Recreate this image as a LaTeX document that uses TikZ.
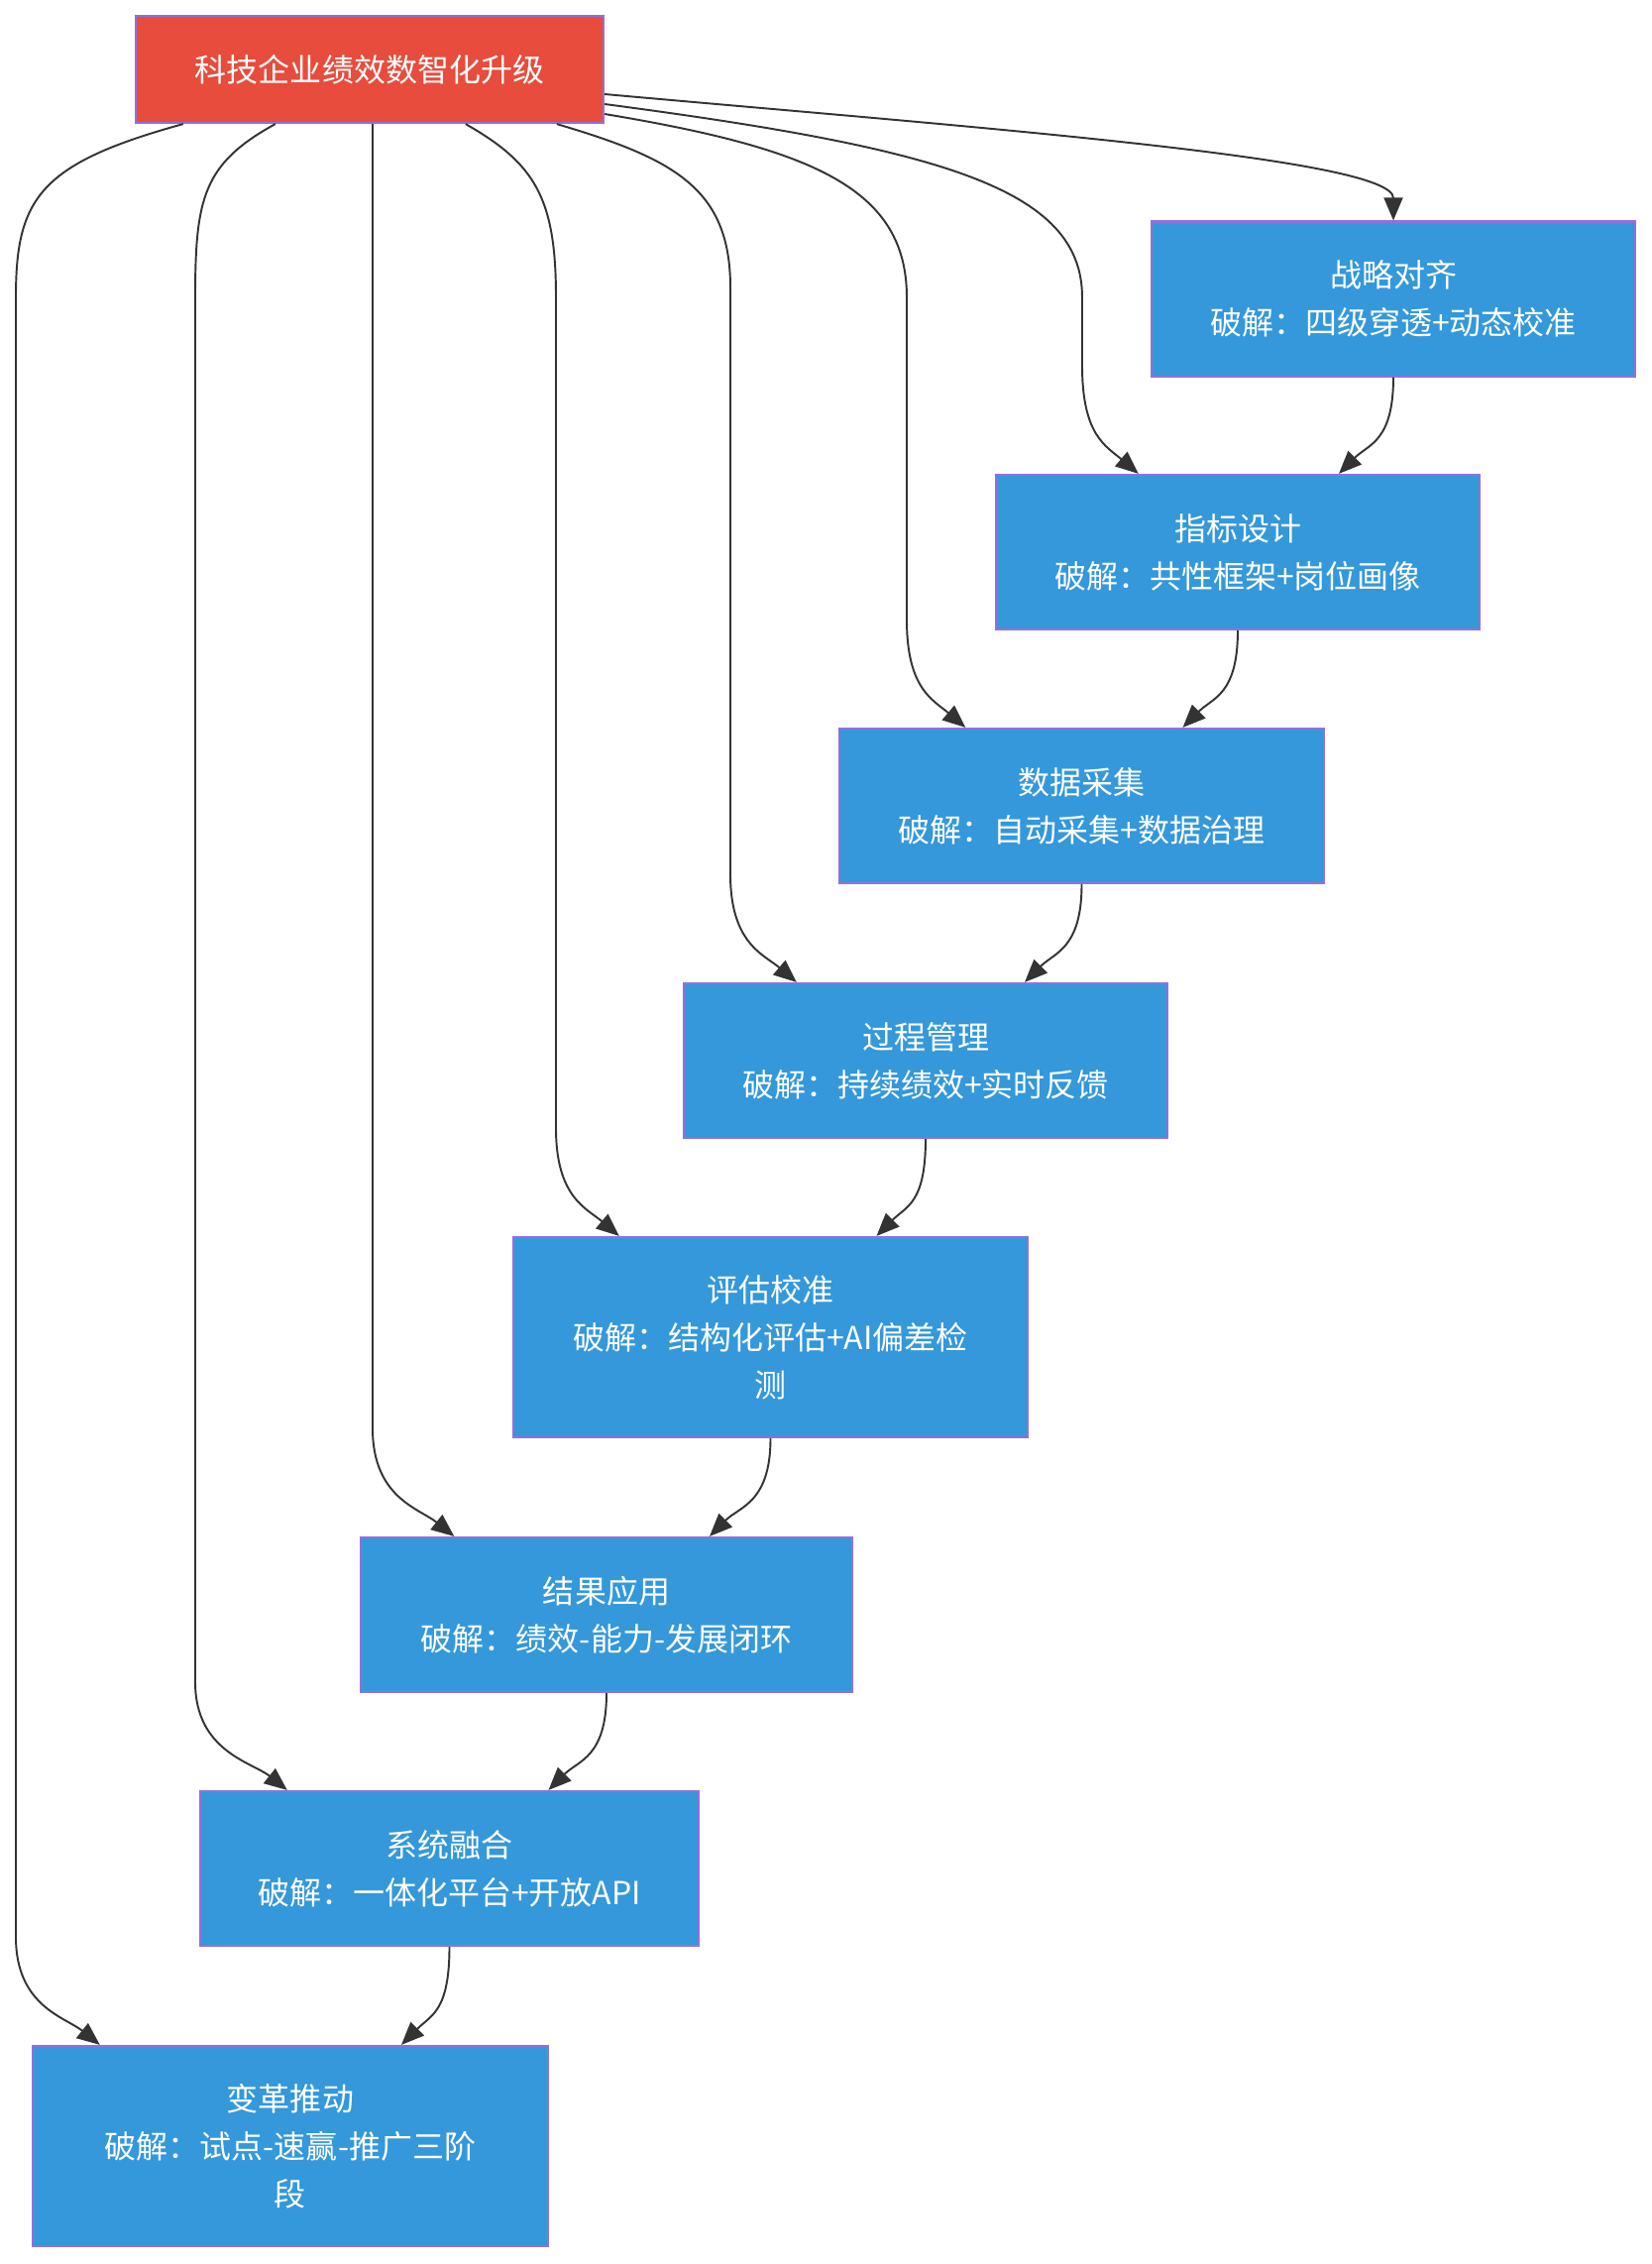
\documentclass[tikz,border=0pt]{standalone}
\usepackage{fontspec}
\usepackage{tikz}
\usetikzlibrary{arrows.meta,calc}
\newfontfamily\cjk{Noto Sans CJK SC}
\definecolor{goalred}{HTML}{E74C3C}
\definecolor{stepblue}{HTML}{3498DB}
\definecolor{edgepurple}{HTML}{9370DB}
\definecolor{linkgray}{HTML}{333333}
\tikzset{
  stepnode/.style={draw=edgepurple,line width=0.6pt,fill=stepblue,text=white,
    minimum width=4.88cm,minimum height=1.56cm,inner sep=0pt,align=center,
    font=\cjk\fontsize{9.1pt}{13.6pt}\selectfont},
  stepnodet/.style={stepnode,minimum height=2.02cm},
  goalnode/.style={stepnode,fill=goalred,minimum width=4.72cm,minimum height=1.08cm},
  linkflow/.style={-{Triangle[length=0.23cm,width=0.19cm]},line width=0.55pt,draw=linkgray}
}
\begin{document}
\begin{tikzpicture}[x=0.01cm,y=-0.01cm]
  \fill[white] (0,0) rectangle (1666,2284);
  \node[goalnode] (root) at (373,70) {科技企业绩效数智化升级};
  \node[stepnode] (strat) at (1406,301.5) {战略对齐\\破解：四级穿透+动态校准};
  \node[stepnode] (kpi) at (1249,557) {指标设计\\破解：共性框架+岗位画像};
  \node[stepnode] (data) at (1091.5,813) {数据采集\\破解：自动采集+数据治理};
  \node[stepnode] (proc) at (934,1070) {过程管理\\破解：持续绩效+实时反馈};
  \node[stepnodet,minimum width=5.19cm] (eval) at (777.5,1349) {评估校准\\破解：结构化评估+AI偏差检\\测};
  \node[stepnode,minimum width=4.95cm] (apply) at (612,1629) {结果应用\\破解：绩效-能力-发展闭环};
  \node[stepnode,minimum width=5.03cm] (integ) at (453.5,1885) {系统融合\\破解：一体化平台+开放API};
  \node[stepnodet,minimum width=5.20cm] (change) at (293,2165) {变革推动\\破解：试点-速赢-推广三阶\\段};
  % root fans out to every stage
  \draw[linkflow] ($(root.east)+(0,25)$) .. controls (1000,130) and (1406,160) .. (strat.north);
  \draw[linkflow] ($(root.east)+(0,35)$) .. controls (950,150) and (1092,190) .. (1092,300) -- (1092,369)
    .. controls (1092,439) and +(-33,-28) .. ($(kpi.north west)+(145,0)$);
  \draw[linkflow] ($(root.east)+(0,45)$) .. controls (820,150) and (915,190) .. (915,300) -- (915,625)
    .. controls (915,695) and +(-33,-28) .. ($(data.north west)+(128,0)$);
  \draw[linkflow] ($(root.south west)+(426,0)$) .. controls (680,160) and (737,190) .. (737,290) -- (737,882)
    .. controls (737,952) and +(-33,-28) .. ($(proc.north west)+(115,0)$);
  \draw[linkflow] ($(root.south west)+(334,0)$) .. controls (540,165) and (561,200) .. (561,300) -- (561,1138)
    .. controls (561,1208) and +(-33,-28) .. ($(eval.north west)+(108,0)$);
  \draw[linkflow] ($(root.south)+(3,0)$) -- (376,1441)
    .. controls (376,1511) and +(-35,-28) .. ($(apply.north west)+(95,0)$);
  \draw[linkflow] ($(root.south west)+(142,0)$) .. controls (205,165) and (197,200) .. (197,300) -- (197,1697)
    .. controls (197,1767) and +(-35,-28) .. ($(integ.north west)+(89,0)$);
  \draw[linkflow] ($(root.south west)+(49,0)$) .. controls (40,165) and (16,200) .. (16,300) -- (16,1954)
    .. controls (16,2024) and +(-35,-28) .. ($(change.north west)+(69,0)$);
  % stage chain
  \draw[linkflow] (strat.south) .. controls +(0,65) and +(30,-30) .. ($(kpi.north)+(102,0)$);
  \draw[linkflow] (kpi.south) .. controls +(0,65) and +(30,-30) .. ($(data.north)+(102,0)$);
  \draw[linkflow] (data.south) .. controls +(0,65) and +(30,-30) .. ($(proc.north)+(100,0)$);
  \draw[linkflow] (proc.south) .. controls +(0,65) and +(30,-30) .. ($(eval.north)+(107,0)$);
  \draw[linkflow] (eval.south) .. controls +(0,65) and +(30,-30) .. ($(apply.north)+(104,0)$);
  \draw[linkflow] (apply.south) .. controls +(0,65) and +(30,-30) .. ($(integ.north)+(100,0)$);
  \draw[linkflow] (integ.south) .. controls +(0,65) and +(30,-30) .. ($(change.north)+(112,0)$);
\end{tikzpicture}
\end{document}
